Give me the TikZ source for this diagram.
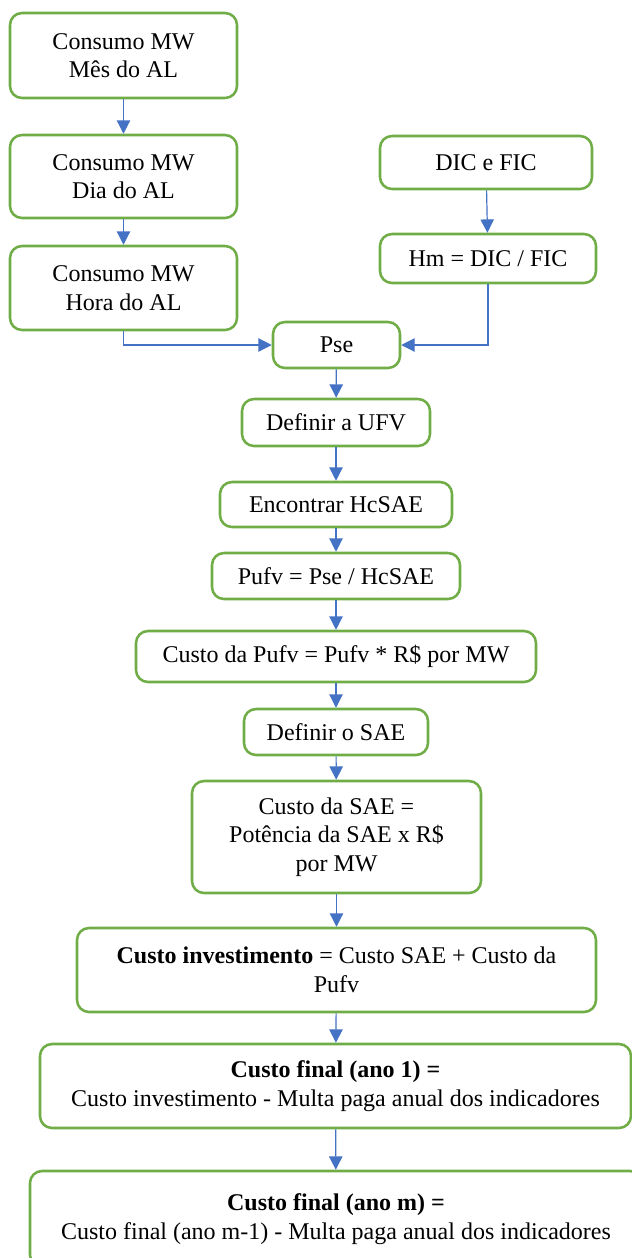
\documentclass[tikz,border=0pt]{standalone}
\usepackage{fontspec}
\setmainfont{Liberation Serif}
\usetikzlibrary{arrows.meta}
\definecolor{boxgreen}{HTML}{70AD47}
\definecolor{arrowblue}{HTML}{4472C4}
\tikzset{
  box/.style={draw=boxgreen, line width=1.9pt, rounded corners=9pt, fill=white,
    align=center, inner sep=0pt, font=\fontsize{18pt}{21.4pt}\selectfont, text=black},
  conn/.style={draw=arrowblue, line width=0.9pt, -{Triangle[length=10pt,width=10pt]}}
}
\begin{document}
\begin{tikzpicture}[x=0.75pt,y=-0.75pt]
\useasboundingbox (0,0) rectangle (632,1258);
\clip (0,0) rectangle (632,1258);
\node[box, minimum width=227*0.75pt, minimum height=85*0.75pt] (b1) at (123.5,55.5) {Consumo MW\\Mês do AL};
\node[box, minimum width=227*0.75pt, minimum height=83*0.75pt] (b2) at (123.5,176.5) {Consumo MW\\Dia do AL};
\node[box, minimum width=227*0.75pt, minimum height=84*0.75pt] (b3) at (123.5,288) {Consumo MW\\Hora do AL};
\node[box, minimum width=212*0.75pt, minimum height=53*0.75pt] (dic) at (486,162.5) {DIC e FIC};
\node[box, minimum width=216*0.75pt, minimum height=49*0.75pt] (hm) at (488,258.5) {Hm = DIC / FIC};
\node[box, minimum width=127*0.75pt, minimum height=46*0.75pt] (pse) at (336.5,345) {Pse};
\node[box, minimum width=188*0.75pt, minimum height=47*0.75pt] (ufv) at (336,422.5) {Definir a UFV};
\node[box, minimum width=232*0.75pt, minimum height=45*0.75pt] (enc) at (336,504.5) {Encontrar HcSAE};
\node[box, minimum width=248*0.75pt, minimum height=46*0.75pt] (pufv) at (336,576) {Pufv = Pse / HcSAE};
\node[box, minimum width=400*0.75pt, minimum height=51*0.75pt] (cpufv) at (336,656.5) {Custo da Pufv = Pufv * R\$ por MW};
\node[box, minimum width=184*0.75pt, minimum height=46*0.75pt] (sae) at (336,732) {Definir o SAE};
\node[box, minimum width=289*0.75pt, minimum height=112*0.75pt] (csae) at (336.5,837) {Custo da SAE =\\Potência da SAE x R\$\\por MW};
\node[box, minimum width=519*0.75pt, minimum height=84*0.75pt] (cinv) at (336.5,970) {\textbf{Custo investimento} = Custo SAE + Custo da\\Pufv};
\node[box, minimum width=591*0.75pt, minimum height=84*0.75pt] (f1) at (335.5,1086) {\textbf{Custo final (ano 1) =}\\Custo investimento - Multa paga anual dos indicadores};
\node[box, minimum width=612*0.75pt, minimum height=96*0.75pt] (fm) at (336,1219) {\textbf{Custo final (ano m) =}\\Custo final (ano m-1) - Multa paga anual dos indicadores};
\draw[conn] (b1) -- (b2);
\draw[conn] (b2) -- (b3);
\draw[conn] (dic) -- (hm);
\draw[conn] (b3.south) |- (pse.west);
\draw[conn] (hm.south) |- (pse.east);
\draw[conn] (pse) -- (ufv);
\draw[conn] (ufv) -- (enc);
\draw[conn] (enc) -- (pufv);
\draw[conn] (pufv) -- (cpufv);
\draw[conn] (cpufv) -- (sae);
\draw[conn] (sae) -- (csae);
\draw[conn] (csae) -- (cinv);
\draw[conn] (cinv) -- (f1);
\draw[conn] (f1) -- (fm);
\end{tikzpicture}
\end{document}
